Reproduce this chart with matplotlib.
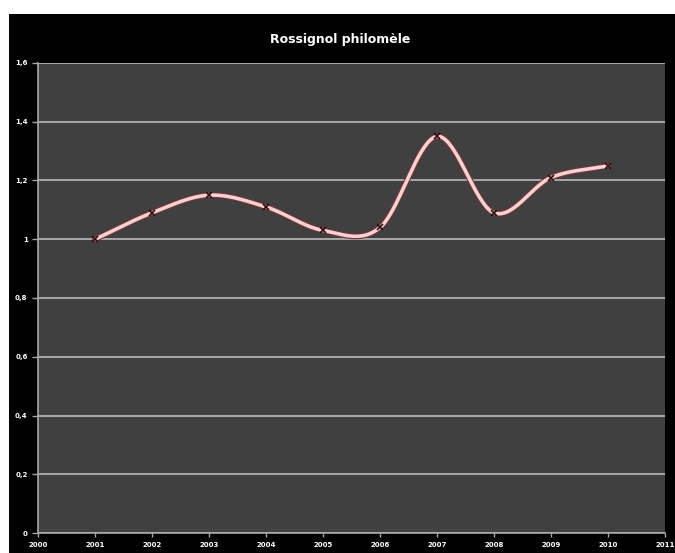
import numpy as np
import matplotlib
matplotlib.use("Agg")
import matplotlib.pyplot as plt
from matplotlib.patches import Rectangle

years = [2001, 2002, 2003, 2004, 2005, 2006, 2007, 2008, 2009, 2010]
values = [1.00, 1.09, 1.15, 1.11, 1.03, 1.04, 1.35, 1.09, 1.21, 1.25]
yticks = [0, 0.2, 0.4, 0.6, 0.8, 1.0, 1.2, 1.4, 1.6]
ylabels = ["0", "0,2", "0,4", "0,6", "0,8", "1", "1,2", "1,4", "1,6"]
xticks = list(range(2000, 2012))

def smooth(x, y, n=40):
    # Catmull-Rom spline through the points, like Excel's smoothed line
    x = np.asarray(x, float)
    y = np.asarray(y, float)
    px = np.concatenate([[2 * x[0] - x[1]], x, [2 * x[-1] - x[-2]]])
    py = np.concatenate([[2 * y[0] - y[1]], y, [2 * y[-1] - y[-2]]])
    xs, ys = [], []
    t = np.linspace(0, 1, n)
    for i in range(1, len(px) - 2):
        for p, out in ((px, xs), (py, ys)):
            p0, p1, p2, p3 = p[i - 1], p[i], p[i + 1], p[i + 2]
            out.append(0.5 * (2 * p1 + (-p0 + p2) * t
                              + (2 * p0 - 5 * p1 + 4 * p2 - p3) * t ** 2
                              + (-p0 + 3 * p1 - 3 * p2 + p3) * t ** 3))
    return np.concatenate(xs), np.concatenate(ys)

fig = plt.figure(figsize=(6.75, 5.53), dpi=100)
fig.patch.set_facecolor("white")
fig.patches.append(Rectangle((9 / 675, 0), 1 - 9 / 675, 539 / 553,
                             transform=fig.transFigure, facecolor="black",
                             edgecolor="none", zorder=-10))

ax = fig.add_axes([38 / 675, 20 / 553, 627 / 675, 470 / 553])
ax.set_zorder(1)
ax.set_facecolor("#404040")
ax.set_xlim(2000, 2011)
ax.set_ylim(0, 1.6)
ax.set_yticks(yticks)
ax.set_yticklabels(ylabels)
ax.set_xticks(xticks)
ax.grid(axis="y", color="#a8a8a8", linewidth=1.4)
ax.set_axisbelow(True)
for s in ["top", "right"]:
    ax.spines[s].set_visible(False)
for s in ["left", "bottom"]:
    ax.spines[s].set_color("#a8a8a8")
    ax.spines[s].set_linewidth(1.2)
ax.tick_params(axis="both", colors="#a8a8a8", labelcolor="white",
               labelsize=5, length=3, width=1)
ax.tick_params(axis="y", length=4)
for lab in ax.get_xticklabels() + ax.get_yticklabels():
    lab.set_fontweight("bold")

sx, sy = smooth(years, values)
ax.plot(sx, sy, color="#7a3030", linewidth=4.2, solid_capstyle="round", zorder=3)
ax.plot(sx, sy, color="#f2d2d2", linewidth=2.6, solid_capstyle="round", zorder=4)
ax.plot(years, values, linestyle="none", marker="x", markersize=4,
        markeredgewidth=1.2, color="#2a1010", zorder=5)

fig.text(340 / 675, 1 - 40 / 553, "Rossignol philomèle", color="white",
         fontsize=9, fontweight="bold", ha="center", va="center")

fig.savefig("out.png", dpi=100, facecolor=fig.get_facecolor())
